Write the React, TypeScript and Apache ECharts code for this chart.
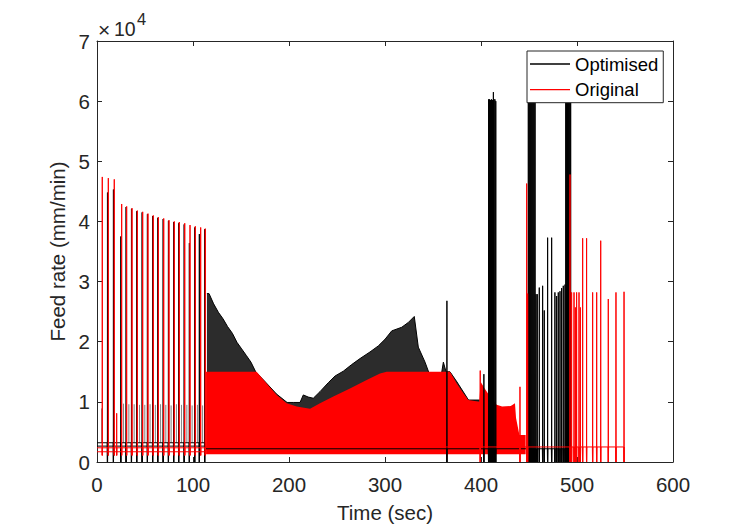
import React, { useEffect, useRef } from "react";
import * as echarts from "echarts";

// ---------- axes ----------
const xTicks = [0, 100, 200, 300, 400, 500, 600];
const yTicks = [0, 10000, 20000, 30000, 40000, 50000, 60000, 70000];

// ---------- Optimised (black) ----------
// phase 1 pulses (time s, peak mm/min)
const optPulseT1 = [10.9, 17.1, 24.8, 30.3, 35.9, 41.4, 47.0, 52.5, 58.0, 63.3, 68.9, 74.4, 79.9, 85.1, 90.8, 96.2, 101.8, 106.6, 112.2];
const optPulseV1 = [44800, 45300, 37500, 42400, 42100, 41700, 41500, 41200, 40900, 40600, 40400, 40100, 39900, 39700, 39500, 36400, 39000, 37900, 38700];
// phase 1 minor pulses
const optMinorT1 = [4.8, 27.6, 33.2, 38.7, 44.3, 49.8, 55.3, 60.8, 66.2, 71.7, 77.2, 82.7, 88.0, 93.6, 99.1, 104.6, 110.0];
const optMinorV1 = [8900, 9700, 9600, 9600, 9500, 9500, 9600, 9500, 9600, 9500, 9400, 9600, 9500, 9500, 9400, 9500, 9400];
// dense section envelope
const optEnvT = [114.5, 116.7, 121.5, 126.4, 131.3, 136.1, 141.0, 145.8, 150.7, 155.6, 160.4, 165.3, 176.0, 187.0, 198.0, 205.0, 211.5, 214.9, 220.0, 225.3, 232.3, 241.0, 248.0, 256.6, 265.3, 274.0, 284.4, 293.0, 300.0, 307.0, 317.4, 324.3, 330.5, 334.7, 341.7, 348.6, 355.5, 360.8, 363.6, 367.7, 375.0, 387.0, 398.0, 405.5];
const optEnvV = [28000, 28000, 26300, 24900, 23800, 22500, 21400, 19900, 18800, 17700, 16600, 15000, 13200, 11300, 9900, 9900, 9900, 11150, 10800, 10600, 11700, 13200, 14300, 15100, 16200, 17200, 18300, 19300, 20400, 21800, 22400, 23200, 24200, 19100, 16600, 13600, 11400, 16600, 15000, 15000, 13300, 10300, 10300, 10000];
// phase 2/3 pulses
const optPulseT2 = [364.5, 403.0, 407.9, 408.9, 409.9, 410.9, 411.9, 412.9, 413.5, 414.5, 415.4, 449.3, 450.3, 451.3, 452.3, 453.3, 454.3, 455.3, 456.3, 457.3, 458.6, 460.7, 464.2, 465.9, 469.4, 473.6, 477.0, 478.8, 480.5, 482.3, 484.0, 485.7, 487.5, 488.3, 489.2, 490.1, 491.0, 491.9, 492.8, 493.4];
const optPulseV2 = [26800, 14600, 60300, 60300, 60200, 60300, 60200, 61500, 60300, 60300, 60000, 60500, 60500, 60500, 60500, 60500, 60500, 60500, 60500, 27900, 27900, 29000, 29300, 25200, 37300, 37300, 28200, 27600, 28200, 28400, 28900, 29300, 29500, 60500, 60500, 60500, 60500, 60500, 60500, 60500];

// ---------- Original (red) ----------
const origPulseT1 = [5.5, 11.8, 18.0, 20.5, 25.7, 30.9, 36.5, 42.0, 47.6, 53.1, 58.6, 63.9, 69.5, 75.0, 80.5, 85.7, 91.4, 96.9, 102.4, 108.0, 112.8];
const origPulseV1 = [47400, 47200, 47000, 8100, 42900, 42500, 42200, 41800, 41600, 41300, 41000, 40700, 40500, 40200, 40000, 39900, 39700, 39400, 39200, 39000, 38800];
const origEnvT = [113.6, 166.3, 176.7, 187.2, 197.6, 208.0, 221.9, 232.3, 246.2, 263.5, 280.9, 294.8, 301.7, 367.7, 374.7, 381.6, 386.8, 398.2, 399.6, 404.0, 409.4, 416.3, 422.0, 431.0, 435.4, 436.5, 440.0, 446.5];
const origEnvV = [15000, 15000, 13060, 11150, 9770, 9220, 8840, 9770, 10870, 12240, 13620, 14710, 15000, 15000, 13060, 11420, 10320, 10000, 13340, 12200, 10870, 9500, 9220, 9300, 9770, 7300, 4500, 4500];
const origPulseT2 = [399.2, 440.6, 447.6, 448.6, 492.7, 494.4, 496.9, 498.3, 499.6, 502.1, 503.5, 505.9, 510.0, 516.3, 520.5, 524.7, 532.6, 540.6, 549.0];
const origPulseV2 = [15200, 12500, 46300, 28000, 47800, 28200, 28200, 25700, 28200, 28200, 25700, 37200, 37200, 28200, 28200, 36800, 27100, 28200, 28300];

// base levels (mm/min)
const optLevels = { high1: 3200, low1: 2640, band: 2500, base2: 2200 };
const origLevels = { high1: 2360, low1: 1700, dip1: 1100, band: 1300, base2: 2500 };

type Pt = [number, number | string];

function pulses(T: number[], V: number[], base: number, dip: number): Pt[] {
  const out: Pt[] = [];
  T.forEach((t, i) => {
    out.push([t - 0.3, base], [t - 0.1, dip], [t, V[i]], [t + 0.1, dip], [t + 0.3, base]);
  });
  return out;
}
function minorPulses(T: number[], V: number[], base: number): Pt[] {
  const out: Pt[] = [];
  T.forEach((t, i) => {
    out.push([t - 0.1, base], [t, V[i]], [t + 0.1, base], [t + 0.15, "-"]);
  });
  return out;
}

// band polygon (envelope over a base level) drawn through the chart's coordinate system
function bandSeries(name: string, T: number[], V: number[], base: number, fill: string, stroke: string | null) {
  return {
    type: "custom",
    name,
    silent: true,
    animation: false,
    coordinateSystem: "cartesian2d",
    data: [[T[0], base]],
    renderItem: (params: any, api: any) => {
      const top = T.map((t, i) => api.coord([t, V[i]]));
      const bottom = T.slice().reverse().map((t) => api.coord([t, base]));
      const children: any[] = [
        { type: "polygon", shape: { points: [...top, ...bottom] }, style: { fill, stroke: "none" } },
      ];
      if (stroke) {
        children.push({ type: "polyline", shape: { points: top }, style: { fill: "none", stroke, lineWidth: 1 } });
      }
      return { type: "group", children };
    },
  };
}

const FONT = "'Liberation Sans', Arial, Helvetica, sans-serif";
const AX = "#262626";

export default function App() {
  const ref = useRef<HTMLDivElement>(null);
  useEffect(() => {
    if (!ref.current) return;
    const chart = echarts.init(ref.current, undefined, { renderer: "svg" });

    const optLine: Pt[] = [
      [0, optLevels.high1],
      ...pulses(optPulseT1, optPulseV1, optLevels.high1, 0),
      [113.0, optLevels.high1],
      [113.3, optLevels.base2],
      ...pulses(optPulseT2, optPulseV2, optLevels.base2, 0),
    ];
    const optLow: Pt[] = [[0, optLevels.low1], [113.0, optLevels.low1]];
    const origLine: Pt[] = [
      [0, origLevels.high1],
      ...pulses(origPulseT1, origPulseV1, origLevels.high1, origLevels.dip1),
      [113.5, origLevels.base2],
      ...pulses(origPulseT2, origPulseV2, origLevels.base2, 0),
    ];
    const origLow: Pt[] = [[0, origLevels.low1], [113.0, origLevels.low1]];

    const common = { type: "line", symbol: "none", showSymbol: false, silent: true, animation: false, emphasis: { disabled: true } };

    const xBase = { type: "value", min: xTicks[0], max: xTicks[xTicks.length - 1], interval: xTicks[1] - xTicks[0], splitLine: { show: false } };
    const yBase = { type: "value", min: yTicks[0], max: yTicks[yTicks.length - 1], interval: yTicks[1] - yTicks[0], splitLine: { show: false } };

    chart.setOption({
      animation: false,
      backgroundColor: "#ffffff",
      grid: { left: 97, right: 73, top: 41, bottom: 62, containLabel: false },
      legend: {
        show: true,
        orient: "vertical",
        left: 527,
        top: 51,
        padding: [3, 5, 3, 3],
        itemGap: 5.7,
        itemWidth: 40,
        itemHeight: 1.3,
        backgroundColor: "#ffffff",
        borderColor: AX,
        borderWidth: 1,
        selectedMode: false,
        textStyle: { fontSize: 18.5, color: "#000", fontFamily: FONT, lineHeight: 20 },
        data: [
          { name: "Optimised", icon: "rect", itemStyle: { color: "#000000", borderWidth: 0 } },
          { name: "Original", icon: "rect", itemStyle: { color: "#ff0000", borderWidth: 0 } },
        ],
      },
      xAxis: [
        {
          ...xBase,
          position: "bottom",
          name: "Time (sec)",
          nameLocation: "middle",
          nameGap: 40,
          nameTextStyle: { fontSize: 20.5, color: AX, fontFamily: FONT },
          axisLine: { show: true, lineStyle: { color: AX, width: 1 } },
          axisTick: { show: true, inside: true, length: 5, lineStyle: { color: AX } },
          axisLabel: { fontSize: 20.5, color: AX, fontFamily: FONT, margin: 12 },
        },
        {
          ...xBase,
          position: "top",
          axisLine: { show: true, onZero: false, lineStyle: { color: AX, width: 1 } },
          axisTick: { show: true, inside: true, length: 5, lineStyle: { color: AX } },
          axisLabel: { show: false },
        },
      ],
      yAxis: [
        {
          ...yBase,
          position: "left",
          name: "Feed rate (mm/min)",
          nameLocation: "middle",
          nameGap: 16,
          nameTextStyle: { fontSize: 20.5, color: AX, fontFamily: FONT },
          axisLine: { show: true, lineStyle: { color: AX, width: 1 } },
          axisTick: { show: true, inside: true, length: 5, lineStyle: { color: AX } },
          axisLabel: { fontSize: 20.5, color: AX, fontFamily: FONT, margin: 7, formatter: (v: number) => String(v / 10000) },
        },
        {
          ...yBase,
          position: "right",
          axisLine: { show: true, onZero: false, lineStyle: { color: AX, width: 1 } },
          axisTick: { show: true, inside: true, length: 5, lineStyle: { color: AX } },
          axisLabel: { show: false },
        },
      ],
      graphic: [
        { type: "text", x: 98, y: 29, style: { text: "×", fontSize: 21, fontFamily: FONT, fill: AX, textAlign: "left", textVerticalAlign: "middle", align: "left", verticalAlign: "middle" } },
        { type: "text", x: 114, y: 28.5, style: { text: "10", fontSize: 19.5, fontFamily: FONT, fill: AX, textAlign: "left", textVerticalAlign: "middle", align: "left", verticalAlign: "middle" } },
        { type: "text", x: 137, y: 19, style: { text: "4", fontSize: 16.5, fontFamily: FONT, fill: AX, textAlign: "left", textVerticalAlign: "middle", align: "left", verticalAlign: "middle" } },
      ],
      series: [
        // Optimised
        bandSeries("_optBand", optEnvT, optEnvV, optLevels.band, "#2c2c2c", "#000000"),
        { ...common, name: "_optMinor", data: minorPulses(optMinorT1, optMinorV1, optLevels.high1), connectNulls: false, lineStyle: { color: "#000", width: 0.8, opacity: 0.35 } },
        { ...common, name: "_optLow", data: optLow, lineStyle: { color: "#000", width: 1 } },
        { ...common, name: "Optimised", data: optLine, lineStyle: { color: "#000", width: 1 }, itemStyle: { color: "#000" } },
        // Original
        bandSeries("_origBand", origEnvT, origEnvV, origLevels.band, "#ff0000", null),
        { ...common, name: "_origLow", data: origLow, lineStyle: { color: "#ff0000", width: 1 } },
        { ...common, name: "Original", data: origLine, lineStyle: { color: "#ff0000", width: 1 }, itemStyle: { color: "#ff0000" } },
      ],
    });
    return () => chart.dispose();
  }, []);
  return <div ref={ref} style={{ position: "fixed", left: 0, top: 0, width: 746, height: 528 }} />;
}
